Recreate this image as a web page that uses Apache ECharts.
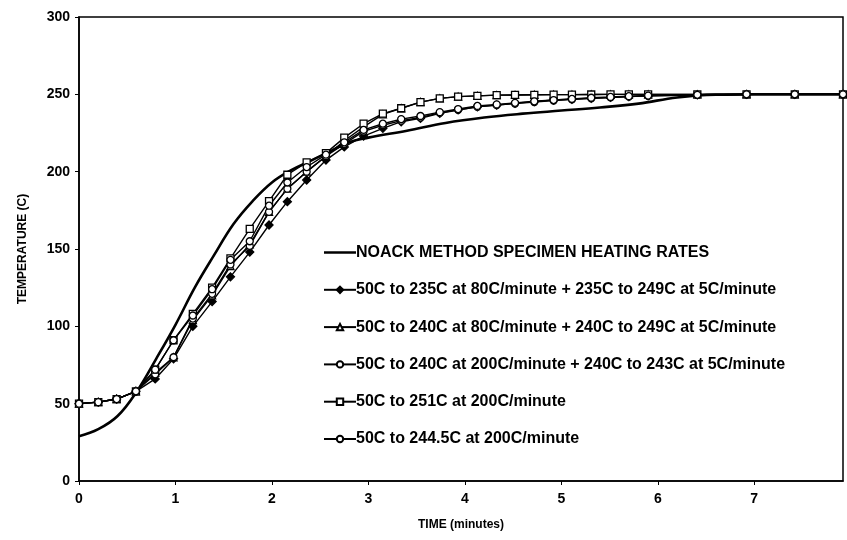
<!DOCTYPE html>
<html><head><meta charset="utf-8">
<script src="https://cdn.jsdelivr.net/npm/echarts@6/dist/echarts.min.js"></script>
<style>html,body{margin:0;padding:0;background:#fff}#c{width:847px;height:540px}</style>
</head><body><div id="c"></div>
<script>
// Marker times (minutes)
const times = [0,0.2,0.39,0.59,0.79,0.98,1.18,1.38,1.57,1.77,1.97,2.16,2.36,2.56,2.75,2.95,3.15,3.34,3.54,3.74,3.93,4.13,4.33,4.52,4.72,4.92,5.11,5.31,5.51,5.7,5.9,6.41,6.92,7.42,7.92];
// NOACK reference curve
const noackTimes = [0,0.2,0.4,0.6,0.8,1.0,1.2,1.4,1.6,1.8,2.0,2.2,2.4,2.6,2.8,3.0,3.4,3.8,4.2,4.6,5.0,5.4,5.8,6.2,6.6,7.0,7.5,7.92];
const noackVals  = [29,33.5,42,58,79,101,125,146,166,181,193,201,207,213,219,222,226.5,231.5,235,237.5,239.5,241.5,244,248,249.8,250,250,250];
// Heating profiles
const diamondVals = [50,51,53,58,66,79,100,116,132,148,165.5,180.6,194.6,207.5,216,223,228,232.3,234.5,237.7,239.9,242,243,244.2,245.3,246.3,246.8,247.4,248,248.5,249,249.6,250,250,250];
const triangleVals = [50,51,53,58,70,80,104,120,139,153,174,189,200,210,220,229,237,241,245,247.4,248.5,249,249.5,249.6,249.7,249.8,249.8,249.9,250,250,250,250,250,250,250];
const circle243Vals = [50,51,53,58,69,80,105,121,140,152,174,189,200,210,218,226,230,233,235,238,240,242,243,244,245,246,246.8,247.5,248,248.5,249,249.6,250,250,250];
const squareVals = [50,51,53,58,72,91,108,125,144,163,181,198,206,212,222,231,237.5,241,245,247.4,248.5,249,249.5,249.6,249.7,249.8,249.8,249.9,250,250,250,250,250,250,250];
const circle2445Vals = [50,51,53,58,72,91,107,124,143,155,178,193,203,211,219,227,231,234,236,238.5,240.5,242.5,243.5,244.5,245.5,246.3,247,247.8,248.3,248.8,249.2,249.7,250,250,250];
const names = [
  'NOACK METHOD SPECIMEN HEATING RATES',
  '50C to 235C at 80C/minute + 235C to 249C at 5C/minute',
  '50C to 240C at 80C/minute + 240C to 249C at 5C/minute',
  '50C to 240C at 200C/minute + 240C to 243C at 5C/minute',
  '50C to 251C at 200C/minute',
  '50C to 244.5C at 200C/minute'
];
const xTicks = [0,1,2,3,4,5,6,7];

const pair = (xs, ys) => xs.map((x, i) => [x, ys[i]]);
const F = 'Liberation Sans, Arial, sans-serif';

function markerSeries(name, vals, symbol, filled, size) {
  return {
    name, type: 'line', data: pair(times, vals),
    symbol, symbolSize: size, showSymbol: true,
    lineStyle: { color: '#000', width: 1.4 },
    itemStyle: { color: filled ? '#000' : '#fff', borderColor: '#000', borderWidth: 1.3 },
    z: 3
  };
}

const legendData = names.map((n, i) => i === 0
  ? { name: n, icon: 'path://M0,0 L32,0 L32,2.5 L0,2.5 Z' }
  : { name: n });

const chart = echarts.init(document.getElementById('c'), null, { renderer: 'canvas' });
chart.setOption({
  animation: false,
  backgroundColor: '#fff',
  grid: { left: 79, right: 4, top: 17, bottom: 59, show: true, borderColor: '#000', borderWidth: 1.5, backgroundColor: 'transparent' },
  legend: {
    orient: 'vertical', left: 318, top: 239.5, itemGap: 21.3, itemWidth: 32, itemHeight: 8,
    data: legendData,
    textStyle: { fontFamily: F, fontWeight: 'bold', fontSize: 16, lineHeight: 16, color: '#000', padding: [0,0,0,-5] }
  },
  xAxis: {
    type: 'value', min: 0, max: 7.92, interval: 1,
    name: 'TIME (minutes)', nameLocation: 'middle', nameGap: 38,
    nameTextStyle: { fontFamily: F, fontWeight: 'bold', fontSize: 12, color: '#000' },
    axisLine: { show: true, lineStyle: { color: '#000', width: 1.5 } },
    axisTick: { show: true, inside: false, length: 4, lineStyle: { color: '#000' } },
    splitLine: { show: false },
    axisLabel: { fontFamily: F, fontWeight: 'bold', fontSize: 14, color: '#000', margin: 11, showMaxLabel: false,
      formatter: v => xTicks.includes(v) ? String(v) : '' }
  },
  yAxis: {
    type: 'value', min: 0, max: 300, interval: 50,
    name: 'TEMPERATURE (C)', nameLocation: 'middle', nameGap: 50, nameRotate: 90,
    nameTextStyle: { fontFamily: F, fontWeight: 'bold', fontSize: 12, color: '#000' },
    axisLine: { show: true, lineStyle: { color: '#000', width: 1.5 } },
    axisTick: { show: true, inside: false, length: 4, lineStyle: { color: '#000' } },
    splitLine: { show: false },
    axisLabel: { fontFamily: F, fontWeight: 'bold', fontSize: 14, color: '#000', margin: 9 }
  },
  series: [
    { name: names[0], type: 'line', data: pair(noackTimes, noackVals), smooth: 0.4, symbol: 'none',
      lineStyle: { color: '#000', width: 2.6 }, itemStyle: { color: '#000' }, z: 2 },
    markerSeries(names[1], diamondVals, 'diamond', true, 8),
    markerSeries(names[2], triangleVals, 'triangle', false, 7),
    markerSeries(names[3], circle243Vals, 'circle', false, 7),
    markerSeries(names[4], squareVals, 'rect', false, 7),
    markerSeries(names[5], circle2445Vals, 'circle', false, 7)
  ]
});
</script></body></html>
